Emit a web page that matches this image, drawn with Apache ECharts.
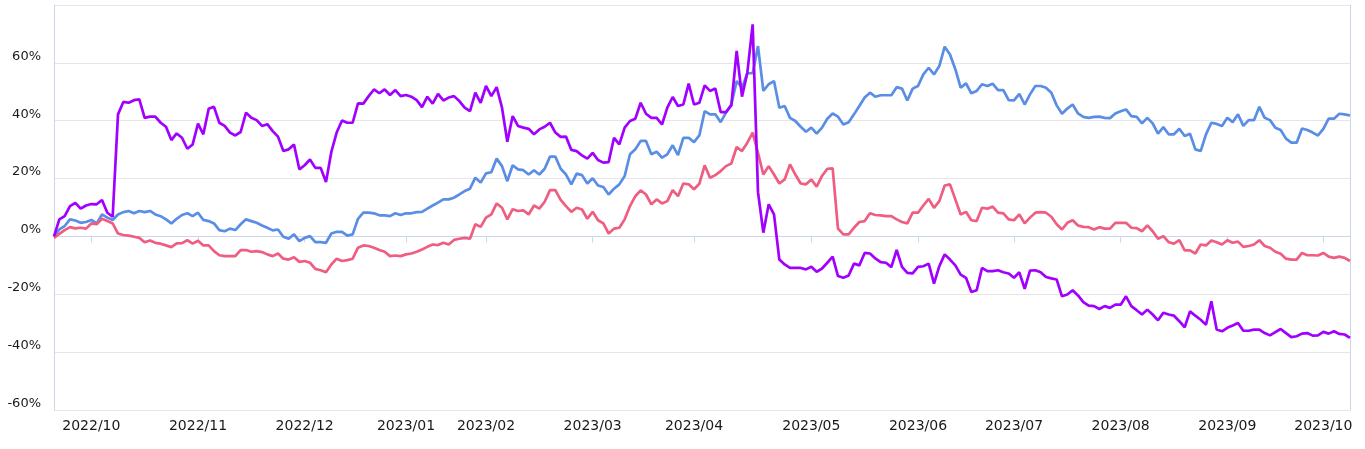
<!DOCTYPE html>
<html>
<head>
<meta charset="utf-8">
<script src="https://cdn.jsdelivr.net/npm/echarts@6/dist/echarts.min.js"></script>
<style>html,body{margin:0;padding:0;background:#fff;}#c{width:1365px;height:449px;}</style>
</head>
<body>
<div id="c"></div>
<script>
// Month labels and the category index where each month starts
const monthLabels = ['2022/10','2022/11','2022/12','2023/01','2023/02','2023/03','2023/04','2023/05','2023/06','2023/07','2023/08','2023/09','2023/10'];
const monthStartIdx = [7, 27, 47, 66, 81, 101, 120, 142, 162, 180, 200, 220, 238];
const pointCount = 244;

const blueSeries = [
0, 2.4, 3.6, 5.9, 5.5, 4.7, 5, 5.7, 4.5, 7.6, 6.5, 5.7,
7.6, 8.4, 8.8, 8, 8.8, 8.4, 8.8, 7.6, 7, 5.9, 4.5, 6.1,
7.4, 8, 7, 8.2, 5.7, 5.3, 4.5, 2.2, 1.8, 2.7, 2.2, 4.2,
5.9, 5.3, 4.7, 3.8, 3, 2.1, 2.4, -0.1, -0.8, 0.7, -1.6, -0.5,
0.1, -2, -2, -2.2, 1, 1.6, 1.6, 0.3, 0.7, 6.1, 8.2, 8.2,
8, 7.3, 7.3, 7, 8, 7.4, 8, 8, 8.4, 8.5, 9.6, 10.7,
11.7, 12.8, 12.8, 13.4, 14.5, 15.7, 16.5, 20.3, 18.6, 21.8, 22.2, 26.9,
24.3, 19.1, 24.6, 23.2, 22.9, 21.4, 22.9, 21.4, 23.4, 27.6, 27.6, 23.4,
21.4, 18, 21.7, 21.2, 18.3, 20.1, 17.6, 17.1, 14.5, 16.5, 18, 20.9,
28.4, 30.1, 33, 33, 28.4, 29.3, 27.2, 28.4, 31.5, 28.1, 34.1, 34.1,
32.6, 34.9, 43.3, 42.2, 42.2, 39.5, 42.8, 45.6, 53.7, 51.4, 56.4, 56.4,
65.8, 50.3, 52.6, 53.7, 44.5, 45.1, 41, 39.9, 37.9, 36.2, 37.6, 35.5,
37.6, 40.7, 42.5, 41.4, 38.7, 39.5, 42.2, 45.1, 48, 49.7, 48.3, 48.8,
48.8, 48.8, 51.6, 51.1, 47, 51.1, 52, 56, 58.3, 56, 58.9, 65.6,
62.9, 57.8, 51.4, 52.9, 49.5, 50.3, 52.6, 52, 52.8, 50.6, 50.6, 47.1,
47, 49.3, 45.6, 49.1, 52, 52, 51.4, 49.7, 45.3, 42.4, 44.2, 45.6,
42.5, 41.3, 41, 41.3, 41.4, 41, 40.9, 42.5, 43.3, 43.9, 41.6, 41.3,
39.1, 41, 39.1, 35.5, 37.8, 35.3, 35.3, 37.2, 34.7, 35.5, 30.1, 29.5,
35.3, 39.3, 38.9, 38.2, 41, 39.5, 42.2, 38.2, 40.2, 40.2, 44.8, 41,
40.2, 37.6, 36.8, 33.8, 32.4, 32.4, 37.3, 36.8, 35.9, 34.9, 37.2, 40.7,
40.7, 42.4, 42.2, 41.8
];

const redSeries = [
-0.5, 0.9, 2.2, 3.2, 2.8, 3, 2.7, 4.5, 4.2, 6.1, 5.3, 4.5,
1, 0.5, 0.3, -0.1, -0.5, -2, -1.4, -2.2, -2.5, -3.1, -3.7, -2.4,
-2.3, -1.3, -2.5, -1.5, -3.1, -3.1, -5.1, -6.5, -6.8, -6.8, -6.8, -4.7,
-4.7, -5.3, -5.1, -5.4, -6.2, -6.8, -5.9, -7.7, -8, -7.2, -8.8, -8.5,
-9.1, -11.2, -11.7, -12.4, -9.7, -7.7, -8.5, -8.2, -7.7, -3.9, -3.1, -3.3,
-3.9, -4.7, -5.3, -6.8, -6.6, -6.8, -6.2, -5.9, -5.3, -4.5, -3.6, -2.8,
-3, -2.2, -2.8, -1.2, -0.8, -0.5, -0.8, 4.2, 3.3, 6.5, 7.6, 11.4,
9.9, 5.9, 9.4, 8.8, 9, 7.6, 10.7, 9.6, 12, 16, 16, 12.6,
10.5, 8.5, 9.9, 9.3, 6.1, 8.5, 5.6, 4.5, 1, 2.7, 3, 5.9,
10.5, 13.9, 15.9, 14.5, 11.1, 12.8, 11.4, 12.2, 16, 13.9, 18.3, 18,
16.3, 18.2, 24.6, 20.3, 21.2, 22.6, 24.3, 25.2, 30.9, 29.5, 32.4, 35.9,
28.9, 21.4, 24.3, 21.4, 18.3, 19.7, 24.9, 21.4, 18.3, 18, 19.7, 17.2,
20.9, 23.4, 23.5, 2.7, 0.7, 0.7, 3, 5, 5.3, 8, 7.4, 7.3,
7, 7, 5.9, 5, 4.5, 8.2, 8.2, 10.7, 13, 9.9, 12.2, 17.6,
18, 12.8, 7.6, 8.5, 5.6, 5.3, 9.9, 9.6, 10.3, 8.2, 8, 5.9,
5.6, 7.6, 4.5, 6.5, 8.2, 8.4, 8.2, 6.8, 4.2, 2.4, 4.7, 5.6,
3.8, 3.3, 3.2, 2.4, 3.2, 2.7, 2.7, 4.7, 4.7, 4.7, 3, 2.9,
1.8, 3.8, 1.8, -0.8, 0.1, -2, -2.5, -1.3, -4.8, -4.8, -5.9, -2.8,
-3.1, -1.4, -2, -2.8, -1.3, -2.2, -1.8, -3.6, -3.3, -2.8, -1.3, -3.3,
-3.9, -5.3, -6, -7.7, -8, -8, -5.7, -6.5, -6.5, -6.6, -5.7, -7,
-7.4, -7, -7.4, -8.5
];

const purpleSeries = [
0, 5.9, 7, 10.5, 11.6, 9.6, 10.7, 11.2, 11.1, 12.6, 8.2, 6.8,
42.2, 46.5, 46.2, 47.1, 47.4, 41, 41.4, 41.4, 39.3, 37.9, 33.3, 35.6,
34.1, 30.3, 31.8, 39, 35.3, 44.1, 44.8, 39.3, 38.2, 35.9, 34.9, 36.1,
42.8, 41, 40.2, 38.2, 38.8, 36.4, 34.5, 29.5, 30.1, 31.8, 23.2, 24.6,
26.6, 23.7, 23.7, 18.8, 29.2, 35.9, 40.1, 39.3, 39.3, 46, 45.9, 48.5,
50.8, 49.5, 50.8, 48.9, 50.6, 48.5, 48.9, 48.3, 47.1, 44.7, 48.3, 45.9,
49.3, 47, 48, 48.5, 46.8, 44.5, 43.3, 49.7, 46.2, 52, 48.5, 51.6,
44.5, 32.7, 41.6, 38.2, 37.6, 37.2, 35.3, 37, 37.9, 39.3, 35.9, 34.4,
34.5, 29.9, 29.5, 28, 26.9, 28.9, 26.4, 25.5, 25.7, 34.1, 31.8, 37.6,
39.9, 40.7, 46.2, 42.4, 41, 41, 38.7, 44.5, 48.2, 45.1, 45.6, 52.8,
45.6, 46.2, 52.2, 50.3, 51.1, 43, 43, 45.3, 64.1, 48.3, 56.6, 73.3,
15.3, 1.3, 11.1, 7.6, -8, -9.7, -10.9, -10.9, -10.9, -11.4, -10.5, -12.2,
-11.1, -9.1, -7, -13.7, -14.3, -13.5, -9.4, -10, -5.7, -5.9, -7.6, -8.9,
-9.1, -10.6, -4.7, -10.5, -12.6, -12.8, -10.5, -10.3, -9.4, -16.3, -10.3, -6.2,
-8, -10, -13.2, -14.3, -19.2, -18.6, -10.9, -12, -12, -11.7, -12.4, -12.8,
-14.3, -12.4, -18.1, -11.8, -11.7, -12.4, -14, -14.5, -14.9, -20.7, -20.1, -18.6,
-20.4, -22.7, -23.9, -24.1, -25.1, -24.1, -24.7, -23.6, -23.6, -20.7, -24.1, -25.5,
-27, -25.3, -27, -29, -26.4, -27, -27.4, -29.3, -31.4, -25.9, -27.4, -28.8,
-30.5, -22.4, -32.2, -32.8, -31.6, -30.8, -29.9, -32.6, -32.6, -32.2, -32.2, -33.4,
-34.2, -33.1, -32, -33.4, -34.8, -34.5, -33.6, -33.4, -34.3, -34.2, -33, -33.6,
-32.8, -33.7, -33.9, -35.1
];

const categories = [];
for (let i = 0; i < pointCount; i++) categories.push(String(i));
const labelFor = {};
monthStartIdx.forEach((idx, k) => { labelFor[idx] = monthLabels[k]; });
const isTick = (idx) => labelFor[idx] !== undefined;

const chart = echarts.init(document.getElementById('c'), null, { renderer: 'canvas' });
const lineStyleFor = (color) => ({ color: color, width: 2.7 });
chart.setOption({
  animation: false,
  textStyle: { fontFamily: 'DejaVu Sans' },
  grid: { left: 54, right: 15, top: 5, bottom: 39, containLabel: false },
  xAxis: {
    type: 'category',
    data: categories,
    boundaryGap: false,
    axisLine: { show: true, lineStyle: { color: '#ccd6eb', width: 1 } },
    axisTick: { show: true, interval: (idx) => isTick(idx), length: 6, lineStyle: { color: '#ccd6eb' } },
    axisLabel: {
      interval: (idx) => isTick(idx),
      formatter: (v, idx) => labelFor[idx] || '',
      color: '#1a1a1a', fontSize: 14, margin: 9, fontFamily: 'DejaVu Sans'
    },
    splitLine: { show: false }
  },
  yAxis: [{
    type: 'value',
    min: -60, max: 80, interval: 20,
    axisLine: { show: true, lineStyle: { color: '#ccd6eb' } },
    axisTick: { show: false },
    axisLabel: { formatter: '{value}%', color: '#1a1a1a', fontSize: 13, margin: 13, showMaxLabel: false, verticalAlign: 'bottom', fontFamily: 'DejaVu Sans' },
    splitLine: { show: true, lineStyle: { color: '#e6e6e6', width: 1 } }
  }, {
    type: 'value',
    position: 'right',
    min: -60, max: 80, interval: 20,
    axisLine: { show: true, lineStyle: { color: '#ccd6eb' } },
    axisTick: { show: false },
    axisLabel: { show: false },
    splitLine: { show: false }
  }],
  series: [
    { type: 'line', data: blueSeries, showSymbol: false, symbol: 'none', lineStyle: lineStyleFor('#5a8de6'), itemStyle: { color: '#5a8de6' } },
    { type: 'line', data: redSeries, showSymbol: false, symbol: 'none', lineStyle: lineStyleFor('#ef5d80'), itemStyle: { color: '#ef5d80' } },
    { type: 'line', data: purpleSeries, showSymbol: false, symbol: 'none', lineStyle: lineStyleFor('#a100ff'), itemStyle: { color: '#a100ff' } }
  ]
});
</script>
</body>
</html>
